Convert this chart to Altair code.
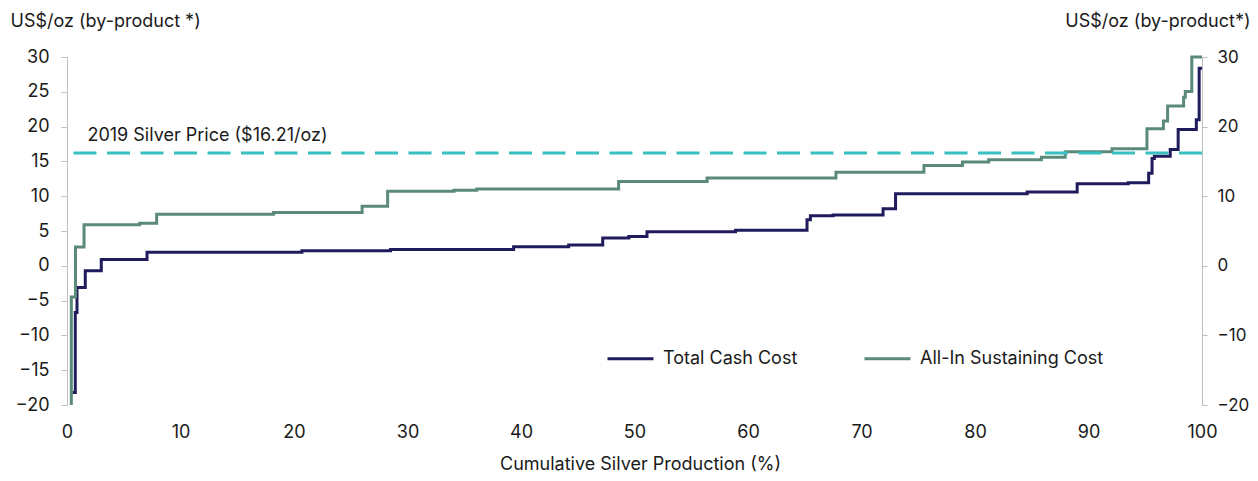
import altair as alt
import pandas as pd

# Cumulative silver production (%) breakpoints and cost levels (US$/oz), step-after
x_tcc = [0.47, 0.73, 0.88, 1.61, 3.02, 7.05, 20.7, 28.5, 39.35, 44.2, 47.2, 49.5, 51.1,
         58.9, 65.2, 65.5, 67.5, 71.9, 73.0, 84.6, 89.0, 93.5, 95.3, 95.6, 95.8, 97.2,
         97.9, 99.5, 99.75, 100]
v_tcc = [-18.2, -6.7, -3.1, -0.7, 0.9, 1.95, 2.15, 2.35, 2.75, 3.0, 4.0, 4.2, 4.9,
         5.1, 6.6, 7.2, 7.3, 8.2, 10.35, 10.6, 11.8, 11.95, 13.3, 15.4, 15.75, 16.7,
         19.6, 21.0, 28.4, 28.4]

x_aisc = [0.38, 0.38, 0.75, 1.5, 6.4, 7.9, 18.2, 26.0, 28.25, 34.1, 36.1, 48.6, 56.4,
          67.75, 75.5, 78.9, 81.2, 85.85, 87.95, 92.07, 95.15, 96.6, 96.97, 98.38,
          98.53, 99.1, 100]
v_aisc = [-20, -4.5, 2.7, 5.9, 6.1, 7.4, 7.65, 8.55, 10.7, 10.85, 11.05, 12.1, 12.6,
          13.45, 14.4, 14.9, 15.25, 15.6, 16.4, 16.8, 19.7, 20.8, 22.95, 24.2,
          25.05, 30, 30]

series_names = ["Total Cash Cost", "All-In Sustaining Cost"]
series_colors = ["#201B5C", "#5B8A7A"]
silver_price = 16.21
price_label = "2019 Silver Price ($16.21/oz)"

rows = []
for i, (x, v) in enumerate(zip(x_tcc, v_tcc)):
    rows.append({"series": series_names[0], "x": x, "v": v, "idx": i})
for i, (x, v) in enumerate(zip(x_aisc, v_aisc)):
    rows.append({"series": series_names[1], "x": x, "v": v, "idx": i})
df = pd.DataFrame(rows)

FONT = "Inter"
YDOM = [-20, 30]
TXT = "#1a1a1a"
AXC = "#bfbfbf"

lines = alt.Chart(df).mark_line(interpolate="step-after", strokeWidth=3).encode(
    x=alt.X("x:Q", scale=alt.Scale(domain=[0, 100], nice=False),
            axis=alt.Axis(values=list(range(0, 101, 10)), domain=False, ticks=False,
                          grid=False, labelPadding=18, labelFontSize=18, labelFont=FONT,
                          labelColor=TXT, labelFlush=False,
                          title="Cumulative Silver Production (%)",
                          titleFont=FONT, titleFontSize=18, titleFontWeight="normal",
                          titleColor=TXT, titleX=573, titleY=59, titleAlign="center",
                          titleBaseline="middle")),
    y=alt.Y("v:Q", scale=alt.Scale(domain=YDOM, nice=False),
            axis=alt.Axis(orient="left", values=list(range(-20, 31, 5)), grid=False,
                          domainColor=AXC, tickColor=AXC, tickSize=6, labelPadding=12,
                          labelFontSize=18, labelFont=FONT, labelColor=TXT,
                          labelFlush=False,
                          title="US$/oz (by-product *)", titleFont=FONT, titleFontSize=18,
                          titleFontWeight="normal", titleColor=TXT, titleAngle=0,
                          titleAlign="left", titleBaseline="middle", titleX=-57,
                          titleY=-36)),
    color=alt.Color("series:N", scale=alt.Scale(domain=series_names, range=series_colors),
                    legend=alt.Legend(orient="none", legendX=539, legendY=277,
                                      direction="horizontal", title=None,
                                      symbolType="stroke", symbolStrokeWidth=3,
                                      symbolSize=2116, labelFontSize=18, labelFont=FONT,
                                      labelColor=TXT, labelOffset=8, labelLimit=0,
                                      columnPadding=60, padding=0)),
    order=alt.Order("idx:Q"),
)

rule = alt.Chart(pd.DataFrame({"p": [silver_price]})).mark_rule(
    color="#38BFC0", strokeWidth=3, strokeDash=[23, 10.5]
).encode(
    y=alt.Y("p:Q", scale=alt.Scale(domain=YDOM, nice=False),
            axis=alt.Axis(orient="right", values=list(range(-20, 31, 5)), grid=False,
                          domainColor=AXC, tickColor=AXC, tickSize=5, labelPadding=10,
                          labelFontSize=17, labelFont=FONT, labelColor=TXT,
                          labelFlush=False,
                          title="US$/oz (by-product*)", titleFont=FONT, titleFontSize=18,
                          titleFontWeight="normal", titleColor=TXT, titleAngle=0,
                          titleAlign="right", titleBaseline="middle", titleX=48,
                          titleY=-36)),
)

label = alt.Chart(pd.DataFrame({"p": [silver_price], "x": [1.8], "t": [price_label]})).mark_text(
    align="left", baseline="middle", dy=-17, fontSize=18, font=FONT, color=TXT
).encode(
    x=alt.X("x:Q"),
    y=alt.Y("p:Q"),
    text="t:N",
)

chart = alt.layer(lines, alt.layer(rule, label)).resolve_scale(y="independent").properties(
    width=1135, height=348,
    autosize=alt.AutoSizeParams(type="none"),
    padding={"left": 59, "top": 49, "right": 48, "bottom": 68},
).configure_view(stroke=None)

chart.save("out.html", embed_options={"renderer": "svg", "actions": False})
